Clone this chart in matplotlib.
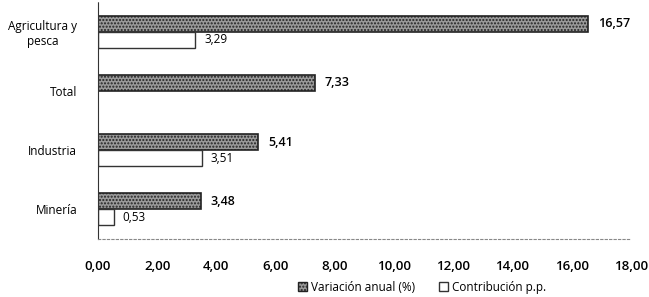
import numpy as np
import matplotlib.pyplot as plt
from matplotlib.patches import Patch

plt.rcParams['font.family'] = ['Open Sans', 'DejaVu Sans']

categories = ['Agricultura y\npesca', 'Total', 'Industria', 'Minería']
variacion = [16.57, 7.33, 5.41, 3.48]
contribucion = [3.29, np.nan, 3.51, 0.53]
xticks = np.arange(0, 18.01, 2)

fig = plt.figure(figsize=(6.49, 2.97), dpi=100)
ax = fig.add_axes([0.151, 0.195, 0.821, 0.798])

y = np.arange(len(categories))
h = 0.27

ax.barh(y - h / 2, variacion, height=h, color='#9a9a9a', edgecolor='#222222',
        hatch='.....', lw=1.2)
for yi, v in zip(y, contribucion):
    if not np.isnan(v):
        ax.barh(yi + h / 2, v, height=h, color='white', edgecolor='#333333', lw=1.0)

def fmt(v):
    return f'{v:.2f}'.replace('.', ',')

for yi, v in zip(y, variacion):
    ax.text(v + 0.33, yi - h / 2, fmt(v), va='center', ha='left', fontsize=9,
            fontweight='semibold')
for yi, v in zip(y, contribucion):
    if not np.isnan(v):
        ax.text(v + 0.3, yi + h / 2, fmt(v), va='center', ha='left', fontsize=8.5)

ax.set_xlim(0, 18)
ax.set_ylim(3.5, -0.5)
ax.set_xticks(xticks)
ax.set_xticklabels([fmt(t) for t in xticks], fontsize=9.5, fontweight='semibold')
ax.set_yticks(y)
ax.set_yticklabels(categories, fontsize=8.5)
for lab in ax.get_yticklabels():
    lab.set_multialignment('center')
ax.tick_params(axis='both', length=0)
ax.tick_params(axis='x', pad=15)
ax.tick_params(axis='y', pad=15)

for s in ['top', 'right']:
    ax.spines[s].set_visible(False)
ax.spines['left'].set_linestyle((0, (1, 1)))
ax.spines['left'].set_color('#333333')
ax.spines['bottom'].set_linestyle((0, (2, 2)))
ax.spines['bottom'].set_color('#888888')

handles = [Patch(facecolor='#9a9a9a', edgecolor='#222222', hatch='.....', label='Variación anual (%)'),
           Patch(facecolor='white', edgecolor='#333333', label='Contribución p.p.')]
fig.legend(handles=handles, loc='center', bbox_to_anchor=(0.65, 0.033), ncol=2,
           frameon=False, fontsize=8.5, handlelength=0.8, handleheight=0.8,
           handletextpad=0.3, columnspacing=2.0)

fig.savefig('out.png', dpi=100)
